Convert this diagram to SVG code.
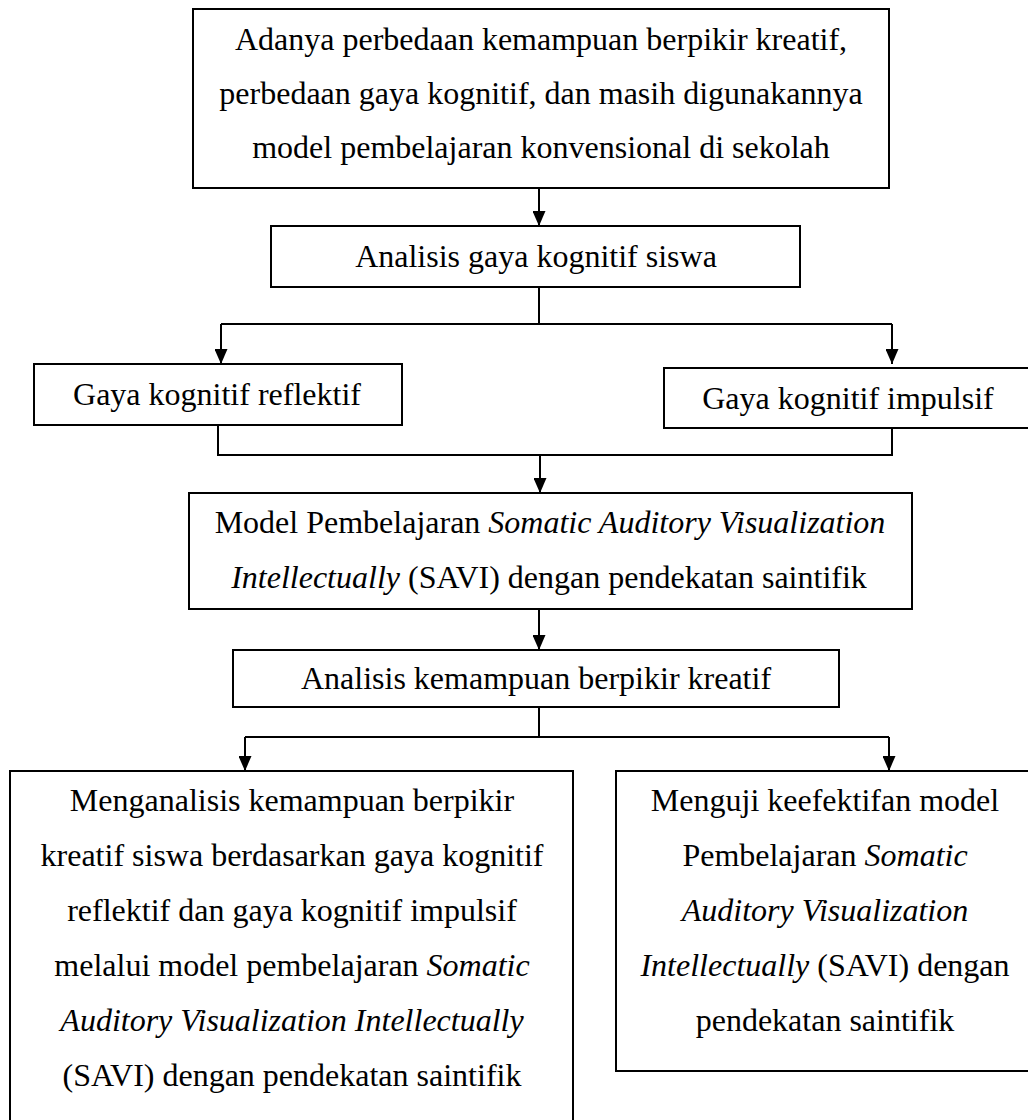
<svg xmlns="http://www.w3.org/2000/svg" width="1028" height="1120" viewBox="0 0 1028 1120">
<style>
.box{fill:#fff;stroke:#000;stroke-width:2}
.t{font-family:"Liberation Serif","Times New Roman",serif;font-size:32px;fill:#000;text-anchor:middle}
.i{font-style:italic}
.c{fill:none;stroke:#000;stroke-width:2}
</style>
<defs>
<marker id="ah" markerUnits="userSpaceOnUse" markerWidth="15" markerHeight="13" refX="15" refY="6.5" orient="auto">
<path d="M0,0 L15,6.5 L0,13 z" fill="#000"/>
</marker>
</defs>
<g id="connectors">
<line class="c" x1="539" y1="188" x2="539" y2="226" marker-end="url(#ah)"/>
<polyline class="c" points="539,287 539,324"/>
<polyline class="c" points="221,324 892,324"/>
<line class="c" x1="221" y1="324" x2="221" y2="364" marker-end="url(#ah)"/>
<line class="c" x1="892" y1="324" x2="892" y2="364" marker-end="url(#ah)"/>
<polyline class="c" points="218,425 218,455 892,455 892,428"/>
<line class="c" x1="540" y1="455" x2="540" y2="493" marker-end="url(#ah)"/>
<line class="c" x1="539" y1="609" x2="539" y2="650" marker-end="url(#ah)"/>
<polyline class="c" points="539,707 539,737"/>
<polyline class="c" points="245,737 889,737"/>
<line class="c" x1="245" y1="737" x2="245" y2="771" marker-end="url(#ah)"/>
<line class="c" x1="889" y1="737" x2="889" y2="771" marker-end="url(#ah)"/>
</g>
<g id="n1">
<rect class="box" x="193" y="9" width="696" height="179"/>
<text class="t" x="541" y="50">Adanya perbedaan kemampuan berpikir kreatif,</text>
<text class="t" x="541" y="104">perbedaan gaya kognitif, dan masih digunakannya</text>
<text class="t" x="541" y="158">model pembelajaran konvensional di sekolah</text>
</g>
<g id="n2">
<rect class="box" x="271" y="226" width="529" height="61"/>
<text class="t" x="536" y="267">Analisis gaya kognitif siswa</text>
</g>
<g id="n3">
<rect class="box" x="34" y="364" width="368" height="61"/>
<text class="t" x="217" y="405">Gaya kognitif reflektif</text>
</g>
<g id="n4">
<rect class="box" x="664" y="368" width="380" height="60"/>
<text class="t" x="848" y="409">Gaya kognitif impulsif</text>
</g>
<g id="n5">
<rect class="box" x="189" y="493" width="723" height="116"/>
<text class="t" x="550" y="533">Model Pembelajaran <tspan class="i">Somatic Auditory Visualization</tspan></text>
<text class="t" x="549" y="588"><tspan class="i">Intellectually</tspan> (SAVI) dengan pendekatan saintifik</text>
</g>
<g id="n6">
<rect class="box" x="233" y="650" width="606" height="57"/>
<text class="t" x="536" y="689">Analisis kemampuan berpikir kreatif</text>
</g>
<g id="n7">
<rect class="box" x="10" y="771" width="563" height="360"/>
<text class="t" x="292" y="811">Menganalisis kemampuan berpikir</text>
<text class="t" x="292" y="866">kreatif siswa berdasarkan gaya kognitif</text>
<text class="t" x="292" y="921">reflektif dan gaya kognitif impulsif</text>
<text class="t" x="292" y="976">melalui model pembelajaran <tspan class="i">Somatic</tspan></text>
<text class="t" x="292" y="1031"><tspan class="i">Auditory Visualization Intellectually</tspan></text>
<text class="t" x="292" y="1086">(SAVI) dengan pendekatan saintifik</text>
</g>
<g id="n8">
<rect class="box" x="616" y="771" width="430" height="300"/>
<text class="t" x="825" y="811">Menguji keefektifan model</text>
<text class="t" x="825" y="866">Pembelajaran <tspan class="i">Somatic</tspan></text>
<text class="t" x="825" y="921"><tspan class="i">Auditory Visualization</tspan></text>
<text class="t" x="825" y="976"><tspan class="i">Intellectually</tspan> (SAVI) dengan</text>
<text class="t" x="825" y="1031">pendekatan saintifik</text>
</g>
</svg>
